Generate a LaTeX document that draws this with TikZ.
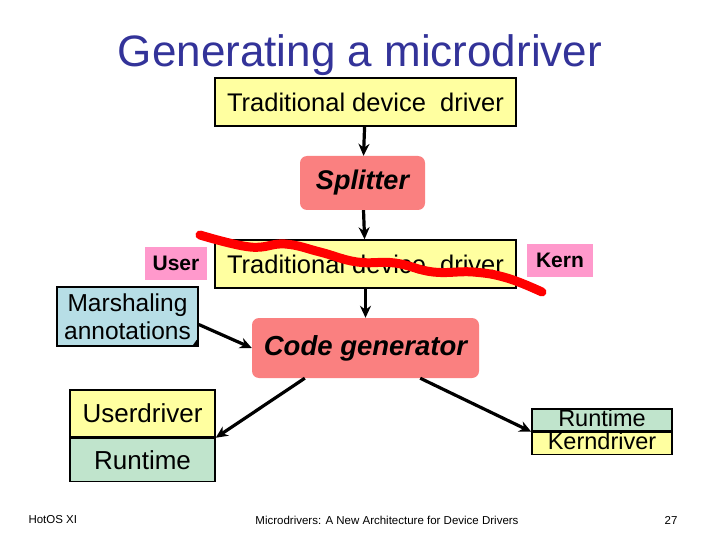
\documentclass[tikz,border=0pt]{standalone}
\usepackage{fontspec}
\setmainfont{Liberation Sans}
\usetikzlibrary{arrows.meta,positioning,calc}
\definecolor{boxyellow}{RGB}{255,255,160}
\definecolor{gensalmon}{RGB}{250,128,128}
\definecolor{tagpink}{RGB}{255,153,204}
\definecolor{notecyan}{RGB}{183,222,230}
\definecolor{rtgreen}{RGB}{192,228,204}
\definecolor{titleblue}{RGB}{51,51,153}
\newcommand{\fs}[1]{\fontsize{#1}{#1}\selectfont}

\begin{document}
\begin{tikzpicture}[x=1pt,y=-1pt,
    drvbox/.style={draw,line width=1.5pt,fill=boxyellow,inner sep=0pt},
    genbox/.style={fill=gensalmon,rounded corners=7pt,inner sep=0pt,font=\fs{27}\bfseries\itshape},
    tagbox/.style={fill=tagpink,inner sep=0pt,font=\fs{21}\bfseries},
    rtbox/.style={draw,line width=1.5pt,fill=rtgreen,inner sep=0pt},
    arr/.style={line width=3.2pt,-{Stealth[length=12pt,width=11pt]}}]
    \useasboundingbox (0,0) rectangle (720,540);
    % Title
    \node[text=titleblue,font=\fs{44}] (title) at (360,55) {Generating a microdriver};
    % Pipeline
    \node[drvbox,minimum width=301pt,minimum height=48pt,font=\fs{25.5}] (trad) at (365.5,102) {Traditional device\ \ driver};
    \node[genbox,minimum width=125pt,minimum height=54pt] (split) at (362.5,183) {Splitter};
    \node[drvbox,minimum width=301pt,minimum height=48pt,font=\fs{25.5}] (trad2) at (365.5,264) {Traditional device\ \ driver};
    \node[tagbox,minimum width=62pt,minimum height=33pt] (user) at (176,263.5) {User};
    \node[tagbox,minimum width=66pt,minimum height=33pt] (kern) at (560,260.5) {Kern};
    \node[genbox,minimum width=227pt,minimum height=60pt,font=\fs{27.5}\bfseries\itshape] (codegen) at (365.5,348) {Code generator};
    % Annotations (note with folded corner)
    \node[draw,line width=1.5pt,fill=notecyan,minimum width=141pt,minimum height=59pt,inner sep=0pt,
          align=center,font=\fontsize{24.5}{28}\selectfont] (marsh) at (127.5,316.5) {Marshaling\\annotations};
    \fill (marsh.south east) -- ++(-7,0) -- ++(5,-7) -- cycle;
    % Outputs
    \node[drvbox,minimum width=145pt,minimum height=47pt,font=\fs{26}] (udrv) at (142.5,413.5) {Userdriver};
    \node[rtbox,minimum width=145pt,minimum height=43pt,font=\fs{26},anchor=north] (urt) at (udrv.south) {Runtime};
    \node[rtbox,minimum width=140pt,text height=17pt,text depth=5pt,font=\fs{23.5}] (krt) at (602,420) {Runtime};
    \node[drvbox,minimum width=140pt,text height=17pt,text depth=5pt,font=\fs{23.5},anchor=north] (kdrv) at (krt.south) {Kerndriver};
    % Connectors
    \draw[arr] (trad) -- (split);
    \draw[arr] (split) -- (trad2);
    \draw[arr] (trad2) -- (codegen);
    \draw[arr] ([yshift=-8pt]marsh.east) -- (codegen.west);
    \draw[arr] ([xshift=53pt]codegen.south west) -- (udrv.south east);
    \draw[arr] ([xshift=-59pt]codegen.south east) -- (krt.south west);
    % Cut line
    \draw[red,line width=9pt,line cap=round] plot[smooth,tension=0.7] coordinates
      {(200,235) (250,247) (285,244) (320,252) (357,262) (395,263) (433,272) (473,272) (507,278) (542,292)};
    % Footer
    \node[font=\fs{11.5},anchor=west] (venue) at (25,520) {HotOS XI};
    \node[font=\fs{11.5}] (foot) at (387,520) {Microdrivers: A New Architecture for Device Drivers};
    \node[font=\fs{11.5}] (page) at (671,520) {27};
\end{tikzpicture}
\end{document}
